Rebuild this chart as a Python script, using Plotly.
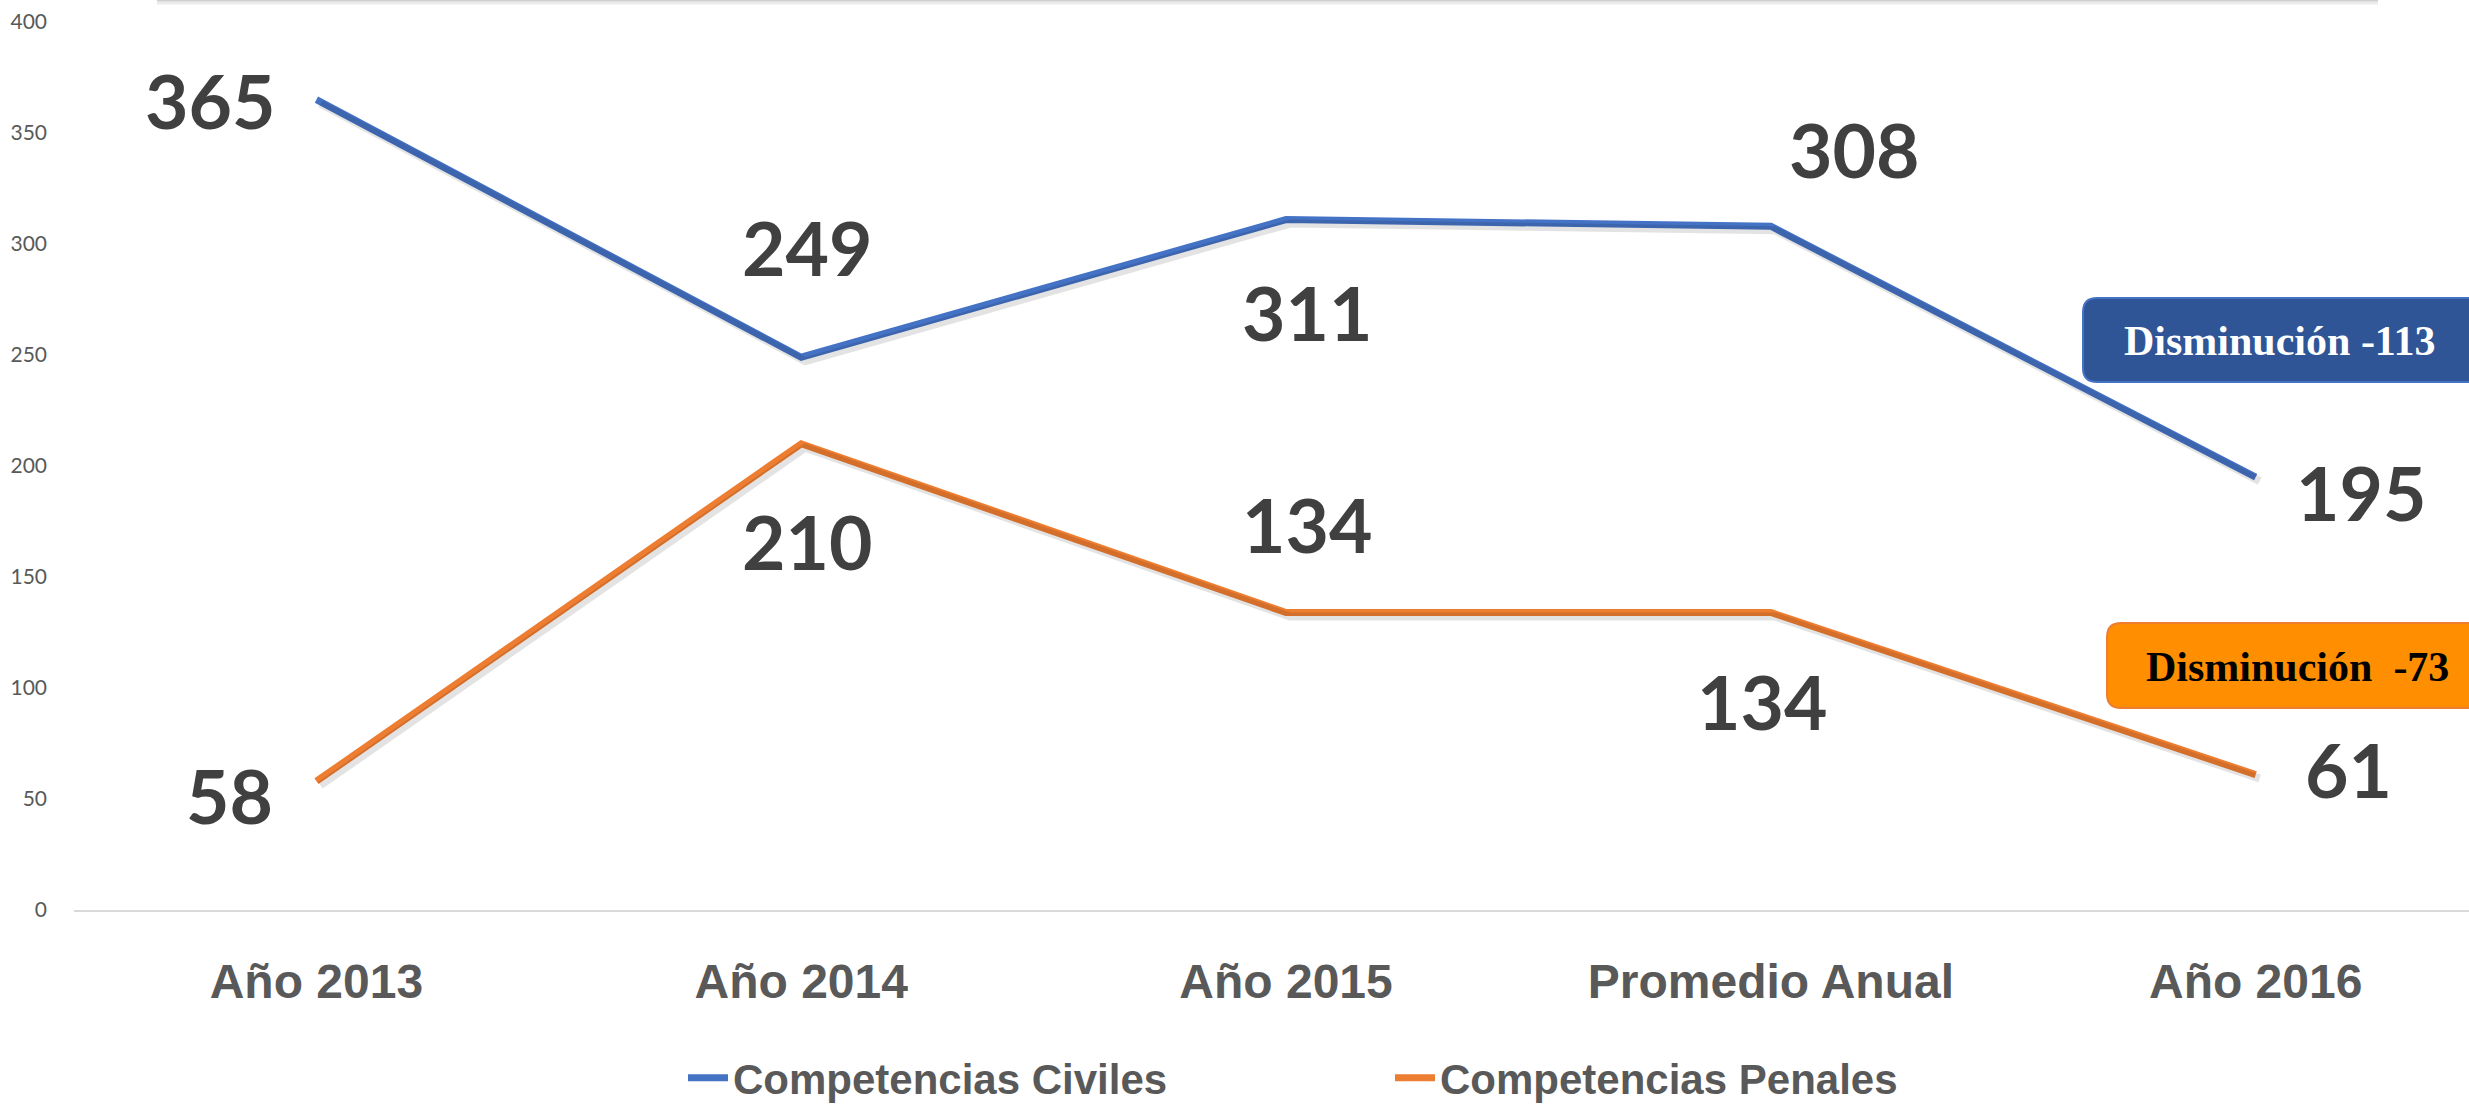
import plotly.graph_objects as go

categories = ["Año 2013", "Año 2014", "Año 2015", "Promedio Anual", "Año 2016"]
civiles = [365, 249, 311, 308, 195]
penales = [58, 210, 134, 134, 61]
y_ticks = [0, 50, 100, 150, 200, 250, 300, 350, 400]
series_names = ["Competencias Civiles", "Competencias Penales"]
box_texts = ["Disminución -113", "Disminución  -73"]

# label offsets in pixels (style only)
civ_off = [(-106, 0), (6, 110), (21, -92), (84, 77), (106, -15)]
pen_off = [(-87, -14), (6, -97), (21, 89), (-8, -88), (93, 6)]

W, H = 2469, 1108
L, R, T, B = 74, 2469, 22, 910
PW, PH = R - L, B - T
XR = [-0.5, 4.44]
YR = [0, 400]
KX = PW / (XR[1] - XR[0])
KY = PH / (YR[1] - YR[0])
SH = 4  # shadow offset px


def px(x):
    return (x - L) / PW


def py(y):
    return (B - y) / PH


def rrect(x0, y0, x1, y1, r):
    rx = r / PW
    ry = r / PH
    a, b, c, d = px(x0), py(y1), px(x1), py(y0)
    return (f"M {a+rx},{b} L {c-rx},{b} Q {c},{b} {c},{b+ry} L {c},{d-ry} Q {c},{d} {c-rx},{d} "
            f"L {a+rx},{d} Q {a},{d} {a},{d-ry} L {a},{b+ry} Q {a},{b} {a+rx},{b} Z")


x_idx = list(range(len(categories)))
fig = go.Figure()
# soft shadows on an offset copy of the axes
for vals in (civiles, penales):
    fig.add_trace(go.Scatter(x=x_idx, y=vals, mode="lines", xaxis="x2", yaxis="y2", showlegend=False,
                             hoverinfo="skip", line=dict(color="rgba(0,0,0,0.11)", width=8)))
fig.add_trace(go.Scatter(x=x_idx, y=civiles, mode="lines", name=series_names[0],
                         line=dict(color="#4472C4", width=7)))
fig.add_trace(go.Scatter(x=x_idx, y=penales, mode="lines", name=series_names[1],
                         line=dict(color="#ED7D31", width=7)))

label_font = dict(family="Lato, Open Sans, sans-serif", size=75, color="#404040")
annotations = []
for vals, offs in ((civiles, civ_off), (penales, pen_off)):
    for i, v in enumerate(vals):
        annotations.append(dict(x=i, y=v, xref="x", yref="y", text=f"<b>{v}</b>", showarrow=False,
                                xshift=offs[i][0], yshift=offs[i][1], font=label_font))

annotations.append(dict(x=px(2280), y=py(341), xref="paper", yref="paper", text=f"<b>{box_texts[0]}</b>",
                        xanchor="center", yanchor="middle", showarrow=False,
                        font=dict(family="Liberation Serif, serif", size=42, color="white")))
annotations.append(dict(x=px(2297), y=py(667), xref="paper", yref="paper", text=f"<b>{box_texts[1]}</b>",
                        xanchor="center", yanchor="middle", showarrow=False,
                        font=dict(family="Liberation Serif, serif", size=42, color="black")))

shapes = [
    dict(type="path", xref="paper", yref="paper", path=rrect(2083, 298, 2520, 382, 14),
         fillcolor="#2F5597", line=dict(color="#4472C4", width=2), layer="below"),
    dict(type="path", xref="paper", yref="paper", path=rrect(2107, 623, 2520, 708, 14),
         fillcolor="#FF8F00", line=dict(color="#ED7D31", width=2), layer="below"),
    # bottom edge of a cut-off frame above the chart
    dict(type="line", xref="paper", yref="paper", x0=px(157), x1=px(2378), y0=py(3), y1=py(3),
         line=dict(color="#EBEBEB", width=3)),
    dict(type="line", xref="paper", yref="paper", x0=px(157), x1=px(2378), y0=py(0.5), y1=py(0.5),
         line=dict(color="#CFCFCF", width=2)),
]

fig.update_layout(
    width=W, height=H,
    margin=dict(l=L, r=W - R, t=T, b=H - B, pad=0, autoexpand=False),
    paper_bgcolor="white", plot_bgcolor="white",
    showlegend=True,
    legend=dict(orientation="h", x=px(683), xanchor="left", y=-(1078 - B) / PH, yanchor="middle",
                font=dict(family="Liberation Sans, Arial, sans-serif", size=42,
                          color="#595959", weight="bold"),
                entrywidth=652, entrywidthmode="pixels", itemwidth=40),
    annotations=annotations,
    shapes=shapes,
    xaxis=dict(range=XR, tickmode="array", tickvals=x_idx, ticktext=categories, automargin=False,
               showgrid=False, zeroline=False, showline=True, linecolor="#D9D9D9", linewidth=2,
               ticks="", ticklabelstandoff=28,
               tickfont=dict(family="Liberation Sans, Arial, sans-serif", size=48,
                             color="#595959", weight="bold")),
    yaxis=dict(range=YR, tickvals=y_ticks, showgrid=False, zeroline=False, showline=False,
               ticks="", ticklabelstandoff=26, automargin=False,
               tickfont=dict(family="Lato, Open Sans, sans-serif", size=21, color="#595959")),
    xaxis2=dict(range=[XR[0] - SH / KX, XR[1] - SH / KX], overlaying="x", visible=False),
    yaxis2=dict(range=[YR[0] + SH / KY, YR[1] + SH / KY], overlaying="y", visible=False),
)

fig.write_html("out.html", config={"displayModeBar": False},
               post_script="document.body.style.margin='0px';document.body.style.overflow='hidden';")
